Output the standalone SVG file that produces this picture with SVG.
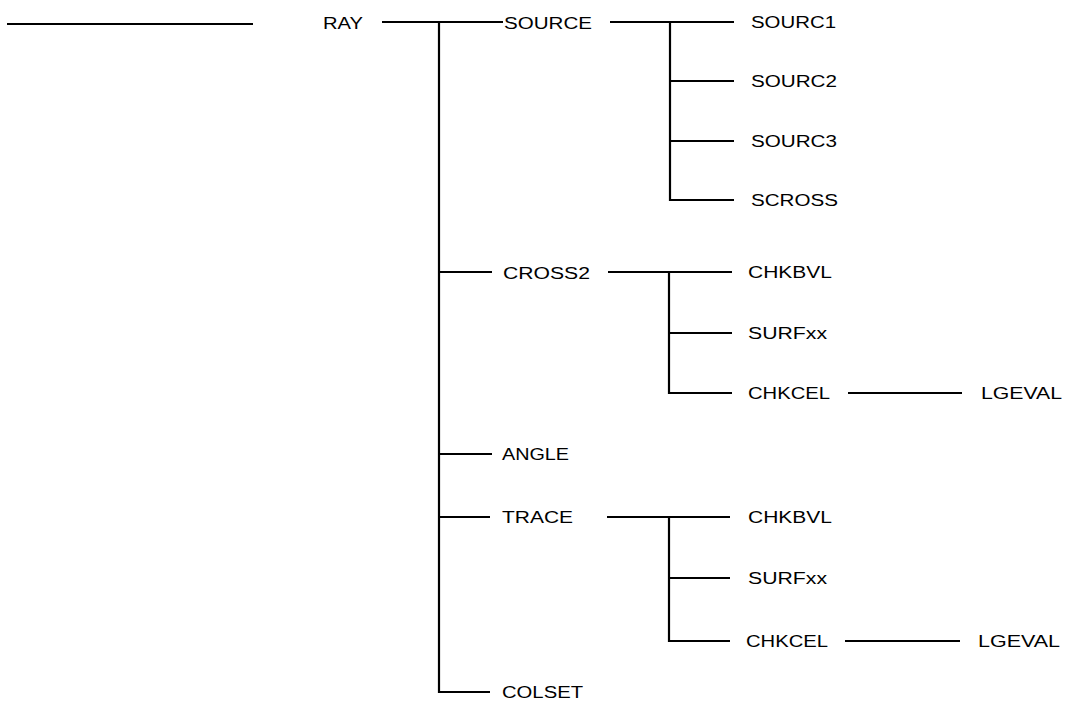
<svg xmlns="http://www.w3.org/2000/svg" width="1071" height="711" viewBox="0 0 1071 711">
<style>
.c{stroke:#000;stroke-width:2.2;fill:none;stroke-linecap:butt}
.t{font-family:"Liberation Sans",Arial,Helvetica,sans-serif;font-size:16px;fill:#000}
</style>
<rect width="1071" height="711" fill="#fff"/>
<g id="connectors">
<line class="c" x1="7" y1="24" x2="253" y2="24"/>
<line class="c" x1="382" y1="22" x2="503" y2="22"/>
<line class="c" x1="439" y1="21" x2="439" y2="693"/>
<line class="c" x1="610" y1="22" x2="734" y2="22"/>
<line class="c" x1="670" y1="21" x2="670" y2="201"/>
<line class="c" x1="669" y1="81" x2="734" y2="81"/>
<line class="c" x1="669" y1="141" x2="734" y2="141"/>
<line class="c" x1="669" y1="200" x2="734" y2="200"/>
<line class="c" x1="438" y1="272" x2="492" y2="272"/>
<line class="c" x1="608" y1="272" x2="732" y2="272"/>
<line class="c" x1="669" y1="271" x2="669" y2="394"/>
<line class="c" x1="668" y1="333" x2="732" y2="333"/>
<line class="c" x1="668" y1="393" x2="732" y2="393"/>
<line class="c" x1="848" y1="393" x2="962" y2="393"/>
<line class="c" x1="438" y1="454" x2="492" y2="454"/>
<line class="c" x1="438" y1="517" x2="490" y2="517"/>
<line class="c" x1="607" y1="517" x2="730" y2="517"/>
<line class="c" x1="669" y1="516" x2="669" y2="642"/>
<line class="c" x1="668" y1="578" x2="730" y2="578"/>
<line class="c" x1="668" y1="641" x2="730" y2="641"/>
<line class="c" x1="845" y1="641" x2="960" y2="641"/>
<line class="c" x1="438" y1="692" x2="490" y2="692"/>
</g>
<g id="n-ray"><text class="t" x="323" y="29" textLength="40" lengthAdjust="spacingAndGlyphs">RAY</text></g>
<g id="n-source"><text class="t" x="504" y="29" textLength="88" lengthAdjust="spacingAndGlyphs">SOURCE</text></g>
<g id="n-sourc1"><text class="t" x="751" y="28" textLength="85" lengthAdjust="spacingAndGlyphs">SOURC1</text></g>
<g id="n-sourc2"><text class="t" x="751" y="87" textLength="86" lengthAdjust="spacingAndGlyphs">SOURC2</text></g>
<g id="n-sourc3"><text class="t" x="751" y="147" textLength="86" lengthAdjust="spacingAndGlyphs">SOURC3</text></g>
<g id="n-scross"><text class="t" x="751" y="206" textLength="87" lengthAdjust="spacingAndGlyphs">SCROSS</text></g>
<g id="n-cross2"><text class="t" x="503" y="279" textLength="87" lengthAdjust="spacingAndGlyphs">CROSS2</text></g>
<g id="n-chkbvl1"><text class="t" x="748" y="278" textLength="84" lengthAdjust="spacingAndGlyphs">CHKBVL</text></g>
<g id="n-surfxx1"><text class="t" x="748" y="339" textLength="79" lengthAdjust="spacingAndGlyphs">SURFxx</text></g>
<g id="n-chkcel1"><text class="t" x="748" y="399" textLength="82" lengthAdjust="spacingAndGlyphs">CHKCEL</text></g>
<g id="n-lgeval1"><text class="t" x="981" y="399" textLength="81" lengthAdjust="spacingAndGlyphs">LGEVAL</text></g>
<g id="n-angle"><text class="t" x="502" y="460" textLength="67" lengthAdjust="spacingAndGlyphs">ANGLE</text></g>
<g id="n-trace"><text class="t" x="502" y="523" textLength="71" lengthAdjust="spacingAndGlyphs">TRACE</text></g>
<g id="n-chkbvl2"><text class="t" x="748" y="523" textLength="84" lengthAdjust="spacingAndGlyphs">CHKBVL</text></g>
<g id="n-surfxx2"><text class="t" x="748" y="584" textLength="79" lengthAdjust="spacingAndGlyphs">SURFxx</text></g>
<g id="n-chkcel2"><text class="t" x="746" y="647" textLength="82" lengthAdjust="spacingAndGlyphs">CHKCEL</text></g>
<g id="n-lgeval2"><text class="t" x="978" y="647" textLength="82" lengthAdjust="spacingAndGlyphs">LGEVAL</text></g>
<g id="n-colset"><text class="t" x="502" y="698" textLength="81" lengthAdjust="spacingAndGlyphs">COLSET</text></g>
</svg>
